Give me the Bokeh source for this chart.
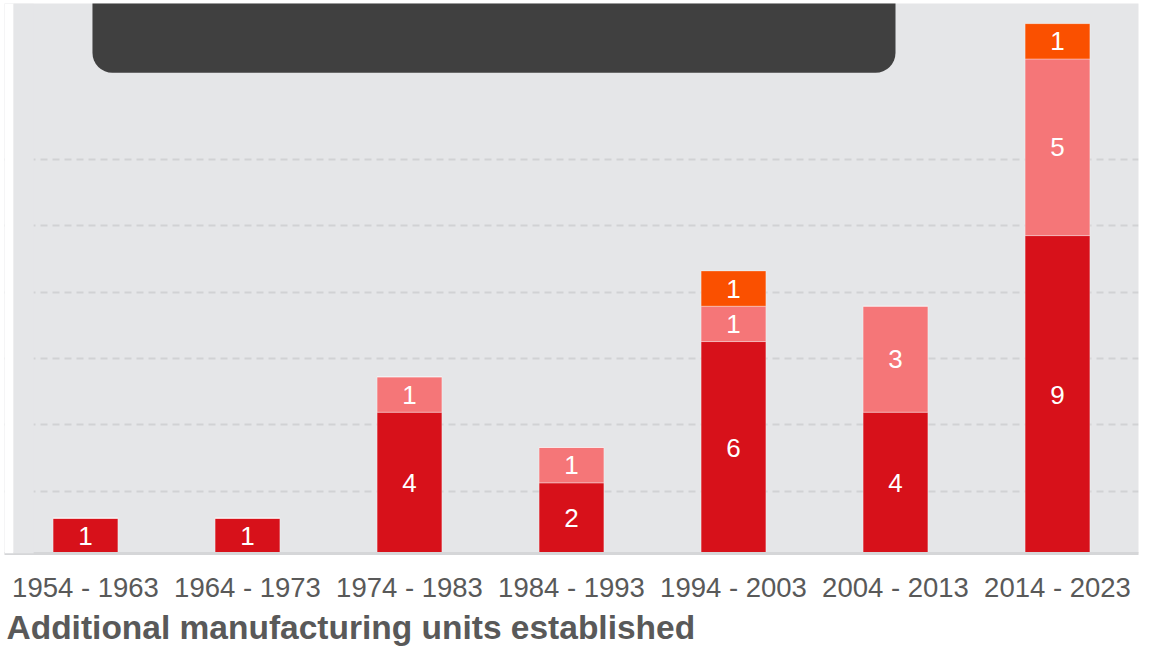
from bokeh.plotting import figure
from bokeh.models import (ColumnDataSource, FactorRange, Range1d, FixedTicker,
                          LabelSet, BoxAnnotation, Title)
from bokeh.core.properties import value
from bokeh.embed import file_html
from bokeh.resources import INLINE

# ---- data ----
categories = ["1954 - 1963", "1964 - 1973", "1974 - 1983", "1984 - 1993",
              "1994 - 2003", "2004 - 2013", "2014 - 2023"]
series_names = ["s1", "s2", "s3"]
s1 = [1, 1, 4, 2, 6, 4, 9]
s2 = [0, 0, 1, 1, 1, 3, 5]
s3 = [0, 0, 0, 0, 1, 0, 1]
colors = ["#d7111a", "#f57678", "#fa5000"]
grid_values = [1.76, 3.64, 5.52, 7.40, 9.28, 11.16]
title_text = "Additional manufacturing units established"

FONT = "Liberation Sans"
BG = "#e5e6e8"

src = ColumnDataSource(dict(cat=categories, s1=s1, s2=s2, s3=s3))

p = figure(x_range=FactorRange(*categories, range_padding=0),
           y_range=Range1d(0, 15.57),
           frame_width=1134, frame_height=550,
           output_backend="svg", toolbar_location=None,
           min_border_left=4, min_border_right=10, min_border_top=3,
           min_border_bottom=4)

p.background_fill_color = BG
p.border_fill_color = "white"
p.outline_line_color = None

# gridlines
p.yaxis.visible = False
p.yaxis.ticker = FixedTicker(ticks=grid_values)
p.ygrid.ticker = FixedTicker(ticks=grid_values)
p.ygrid.grid_line_color = "#d1d2d4"
p.ygrid.grid_line_width = 2
p.ygrid.grid_line_dash = "7 5"
p.xgrid.grid_line_color = None

# left margin of the panel: white strip, then plain background (no gridlines)
p.add_layout(BoxAnnotation(right=0.056, fill_color="white", fill_alpha=1,
                           line_color=None))
p.add_layout(BoxAnnotation(left=0.056, right=0.18, fill_color=BG,
                           fill_alpha=1, line_color=None))

p.vbar_stack(series_names, x="cat", width=0.4, color=colors, source=src,
             line_color="white", line_alpha=0.35, line_width=1)

# segment labels
lx, ly, lt = [], [], []
for i, c in enumerate(categories):
    base = 0
    for vals in (s1, s2, s3):
        v = vals[i]
        if v > 0:
            lx.append(c)
            ly.append(base + v / 2)
            lt.append(str(v))
        base += v
lsrc = ColumnDataSource(dict(x=lx, y=ly, t=lt))
p.add_layout(LabelSet(x="x", y="y", text="t", source=lsrc,
                      text_align="center", text_baseline="middle",
                      text_color="white", text_font=value(FONT),
                      text_font_size="26px"))

# dark overlay box at top
p.add_layout(BoxAnnotation(left=0.543, right=5.5, bottom=13.61, top=20,
                           fill_color="#404040", fill_alpha=1,
                           line_color=None, border_radius=20))

# x axis
xa = p.xaxis[0]
xa.axis_line_color = "#d5d6d8"
xa.axis_line_width = 3
xa.major_tick_line_color = None
xa.minor_tick_line_color = None
xa.major_label_text_font = FONT
xa.major_label_text_font_size = "27.5px"
xa.major_label_text_color = "#595959"
xa.major_label_standoff = 12

p.add_layout(Title(text=title_text, align="left", text_font=FONT,
                   text_font_size="33.5px", text_font_style="bold",
                   text_color="#595959", standoff=3, offset=2), "below")

open("out.html", "w").write(file_html(p, INLINE))
